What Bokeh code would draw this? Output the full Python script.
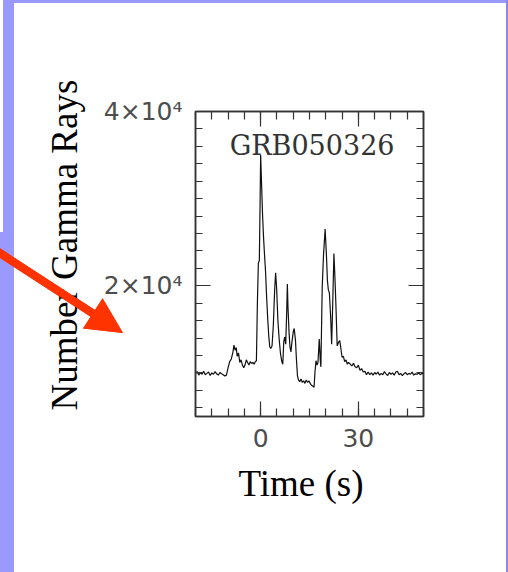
import math
from urllib.parse import quote
from bokeh.plotting import figure
from bokeh.models import Range1d, FixedTicker, LinearAxis, Label, Title
from bokeh.embed import file_html
from bokeh.resources import INLINE

burst_name = "GRB050326"
x_title = "Time (s)"
y_title = "Number Gamma Rays"

time_s = [
    -20, -19.5, -19, -18.5, -18, -17.5, -17, -16.5, -16, -15.5, -15, -14.5, -14, -13.5, -13, -12.5, -12, -11.5, -11, -10.5,
    -10, -9.5, -9, -8.5, -8.2, -7.8, -7.5, -7.2, -6.8, -6.4, -6.0, -5.6, -5.2, -4.8, -4.4, -4.0, -3.6, -3.2, -2.8, -2.4, -2.0, -1.6,
    -1.3, -1.0, -0.7, -0.4, -0.15, 0.0, 0.3, 0.6, 0.9, 1.2, 1.5, 1.8, 2.2, 2.5, 2.8, 3.1, 3.5, 3.9, 4.3, 4.6, 4.9, 5.3, 5.7, 6.1,
    6.5, 6.8, 7.1, 7.4, 7.7, 8.0, 8.2, 8.4, 8.7, 9.0, 9.3, 9.6, 10.0, 10.3, 10.7, 11.0, 11.3,
    11.6, 12.0, 12.4, 12.8, 13.2, 13.6, 14.0, 14.4, 14.8, 15.2, 15.6, 16.0, 16.4,
    16.7, 17.0, 17.3, 17.6, 18.0, 18.3, 18.5, 18.9, 19.3, 19.8, 20.2, 20.5, 20.8, 21.1, 21.5, 21.8, 22.1, 22.5, 22.8, 23.1,
    23.5, 23.9, 24.3, 24.7, 25.0, 25.4, 25.8, 26.2, 26.6, 27.0, 27.5, 28.0, 28.5, 29.0, 29.5, 30.0, 30.5, 31.0, 31.5, 32.0,
    32.5, 33.0, 33.5,
    34.0, 34.5, 35.0, 35.5, 36.0, 36.5, 37.0, 37.5, 38.0, 38.5, 39.0, 39.5, 40.0, 40.5, 41.0, 41.5, 42.0, 42.5, 43.0, 43.5,
    44.0, 44.5, 45.0, 45.5, 46.0, 46.5, 47.0, 47.5, 48.0, 48.5, 49.0, 49.5, 50.0,
]
counts = [
    9900, 10150, 9750, 10050, 9850, 10200, 9800, 9950, 10100, 9700, 10000, 9850, 10150, 9900, 9750, 10050, 9900, 9800, 9650, 9750,
    10600, 11300, 11600, 12400, 13200, 12600, 12900, 11900, 12300, 11200, 11500, 10900, 10600, 10900, 11500, 11200, 10900, 11300, 11100, 11200, 11000, 11300,
    11400, 18000, 22600, 22900, 30000, 35000, 31500, 28000, 25500, 23500, 21700, 19000, 16000, 14200, 13000, 12800, 13100, 15500, 19500, 21500, 19800, 16000, 13800, 12200,
    11300, 11000, 13600, 14100, 13300, 17000, 20200, 17500, 14800, 13000, 12400, 13500, 14700, 15100, 13700, 11500, 9700,
    9200, 9000, 9300, 8900, 9100, 8800, 9200, 8900, 9100, 8800, 8600, 8500, 8350,
    10200, 11400, 10900, 11200, 13900, 11500, 10700, 19800, 23500, 26500, 23500, 20600, 19500, 19200, 16400, 13300, 17500, 23700, 21000, 17900,
    13100, 13500, 13700, 12600, 11800, 11900, 11300, 11500, 11000, 11200, 11000, 10800, 11100, 10700, 10600, 10900, 10300, 10500, 10100, 10200,
    9800, 10100, 9800,
    10000, 9750, 10050, 9850, 10100, 9750, 9950, 9800, 10150, 9900, 9700, 10050, 9850, 10000, 9750, 10100, 10200, 9800, 9950, 9700,
    9900, 10050, 9800, 9950, 9850, 10100, 9750, 9900, 9850, 10000, 9800, 9950, 9900,
]

x_major_ticks = [0, 30]
x_minor_ticks = [-20, -15, -10, -5, 0, 5, 10, 15, 20, 25, 30, 35, 40, 45, 50]
y_major_ticks = [20000, 40000]
y_minor_ticks = [6000, 8000, 10000, 12000, 14000, 16000, 18000, 20000, 22000, 24000, 26000, 28000, 30000, 32000, 34000, 36000, 38000, 40000]
y_tick_labels = {20000: "2×10⁴", 40000: "4×10⁴"}

W, H = 508, 572
FL, FR, FT, FB = 195, 423, 111, 416
AX = "#333333"
BLUE = "#9999ff"
EDGE = "#8888ee"
RED = "#ff3300"

# ---- red pointer arrow (slide decoration outside the plot frame) ----
tail, tip = (-8.0, 248.0), (123.0, 333.0)
head_len, head_half, shaft_half = 36.0, 18.0, 4.0
dx, dy = tip[0] - tail[0], tip[1] - tail[1]
L = math.hypot(dx, dy)
ux, uy = dx / L, dy / L
nx, ny = -uy, ux
bx, by = tip[0] - head_len * ux, tip[1] - head_len * uy
pts = [
    (tail[0] + shaft_half * nx, tail[1] + shaft_half * ny),
    (bx + shaft_half * nx, by + shaft_half * ny),
    (bx + head_half * nx, by + head_half * ny),
    tip,
    (bx - head_half * nx, by - head_half * ny),
    (bx - shaft_half * nx, by - shaft_half * ny),
    (tail[0] - shaft_half * nx, tail[1] - shaft_half * ny),
]
pts_str = " ".join(f"{a:.1f},{b:.1f}" for a, b in pts)
arrow_svg = (f'<svg xmlns="http://www.w3.org/2000/svg" width="{W}" height="{H}">'
             f'<polygon points="{pts_str}" fill="{RED}"/></svg>')
arrow_url = 'url("data:image/svg+xml,' + quote(arrow_svg) + '")'

# ---- slide frame (blue strips) as the element background ----
slide_bg = {
    "background-color": "white",
    "background-image": ", ".join([arrow_url] + [f"linear-gradient({BLUE}, {BLUE})"] * 3 + [f"linear-gradient({EDGE}, {EDGE})"]),
    "background-size": f"{W}px {H}px, 503px 3px, 11px 232px, 14px 340px, 2px 572px",
    "background-position": "0px 0px, 3px 0px, 3px 0px, 0px 232px, 506px 0px",
    "background-repeat": "no-repeat",
}

p = figure(width=W, height=H, x_range=Range1d(-20, 50), y_range=Range1d(5000, 40000),
           output_backend="svg", toolbar_location=None,
           min_border_left=FL, min_border_right=W - FR, min_border_top=FT, min_border_bottom=H - FB,
           background_fill_color="white", border_fill_alpha=0,
           outline_line_color=AX, outline_line_width=1.5)
p.styles = slide_bg
# arrow drawn again on top of the canvas so it overlays the axis title, as in the slide
p.stylesheets = [
    ":host::after { content: \"\"; position: absolute; left: 0px; top: 0px; "
    f"width: {W}px; height: {H}px; background-image: {arrow_url}; background-repeat: no-repeat; "
    "pointer-events: none; z-index: 100; }"
]
p.grid.visible = False


def style_axis(ax, major, minor, minor_len):
    ax.ticker = FixedTicker(ticks=major, minor_ticks=minor)
    ax.major_tick_in = 15
    ax.major_tick_out = 0
    ax.minor_tick_in = minor_len
    ax.minor_tick_out = 0
    ax.major_tick_line_color = AX
    ax.minor_tick_line_color = AX
    ax.major_tick_line_width = 1.2
    ax.minor_tick_line_width = 1.2
    ax.axis_line_color = AX
    ax.axis_line_width = 1.5
    ax.major_label_text_font = "DejaVu Sans"
    ax.major_label_text_font_size = "25px"
    ax.major_label_text_color = "#4d4d4d"


xb = p.xaxis[0]
style_axis(xb, x_major_ticks, x_minor_ticks, 8)
xb.major_label_standoff = 12

yl = p.yaxis[0]
style_axis(yl, y_major_ticks, y_minor_ticks, 7)
yl.major_label_overrides = y_tick_labels
yl.major_label_standoff = 13
yl.major_label_orientation = "horizontal"

xt = LinearAxis()
style_axis(xt, x_major_ticks, x_minor_ticks, 8)
xt.major_label_overrides = {t: "" for t in x_major_ticks}
p.add_layout(xt, "above")

yr = LinearAxis()
style_axis(yr, y_major_ticks, y_minor_ticks, 7)
yr.major_label_overrides = {t: "" for t in y_major_ticks}
p.add_layout(yr, "right")

p.line(time_s, counts, line_color="#111111", line_width=1.2)

p.add_layout(Label(x=15.8, y=36100, text=burst_name, text_align="center", text_baseline="middle",
                   text_font="DejaVu Serif", text_font_size="27px", text_color="#333333"))

p.add_layout(Title(text=y_title, align="left", offset=6, standoff=31,
                   text_font="Liberation Serif", text_font_size="37px", text_font_style="normal",
                   text_color="black"), "left")
p.add_layout(Title(text=x_title, align="left", offset=43, standoff=23,
                   text_font="Liberation Serif", text_font_size="37px", text_font_style="normal",
                   text_color="black"), "below")

open("out.html", "w").write(file_html(p, INLINE))
